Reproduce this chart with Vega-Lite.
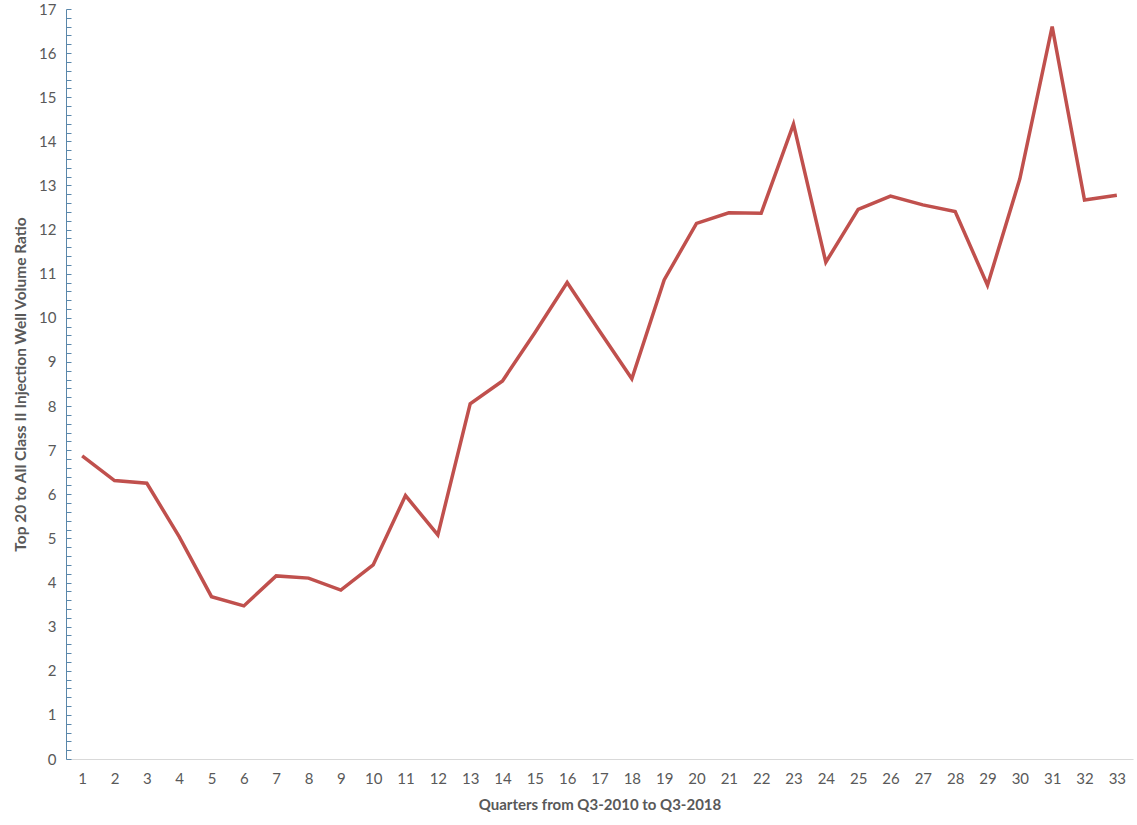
{
  "$schema": "https://vega.github.io/schema/vega-lite/v6.json",
  "width": 1067,
  "height": 750,
  "autosize": "none",
  "padding": {"left": 66, "top": 9, "right": 4, "bottom": 66},
  "background": "white",
  "config": {
    "view": {"stroke": null},
    "font": "Lato"
  },
  "data": {
    "values": [
      {"q": 1, "r": 6.87}, {"q": 2, "r": 6.31}, {"q": 3, "r": 6.25}, {"q": 4, "r": 5.04},
      {"q": 5, "r": 3.68}, {"q": 6, "r": 3.47}, {"q": 7, "r": 4.15}, {"q": 8, "r": 4.10},
      {"q": 9, "r": 3.83}, {"q": 10, "r": 4.40}, {"q": 11, "r": 5.97}, {"q": 12, "r": 5.08},
      {"q": 13, "r": 8.05}, {"q": 14, "r": 8.57}, {"q": 15, "r": 9.66}, {"q": 16, "r": 10.80},
      {"q": 17, "r": 9.70}, {"q": 18, "r": 8.62}, {"q": 19, "r": 10.86}, {"q": 20, "r": 12.14},
      {"q": 21, "r": 12.38}, {"q": 22, "r": 12.37}, {"q": 23, "r": 14.39}, {"q": 24, "r": 11.26},
      {"q": 25, "r": 12.46}, {"q": 26, "r": 12.76}, {"q": 27, "r": 12.56}, {"q": 28, "r": 12.41},
      {"q": 29, "r": 10.74}, {"q": 30, "r": 13.15}, {"q": 31, "r": 16.60}, {"q": 32, "r": 12.67},
      {"q": 33, "r": 12.78}
    ]
  },
  "mark": {"type": "line", "color": "#c0504d", "strokeWidth": 3.5, "strokeJoin": "miter"},
  "encoding": {
    "x": {
      "field": "q",
      "type": "ordinal",
      "sort": "ascending",
      "title": "Quarters from Q3-2010 to Q3-2018",
      "axis": {
        "labelAngle": 0,
        "ticks": false,
        "domainColor": "#d9d9d9",
        "domainWidth": 1,
        "labelColor": "#595959",
        "labelFontSize": 15,
        "labelPadding": 12,
        "titleColor": "#595959",
        "titleFontSize": 15,
        "titleFontWeight": "bold",
        "titlePadding": 11
      }
    },
    "y": {
      "field": "r",
      "type": "quantitative",
      "title": "Top 20 to All Class II Injection Well Volume Ratio",
      "scale": {"domain": [0, 17], "nice": false, "zero": true},
      "axis": {
        "values": [0,0.2,0.4,0.6,0.8,1,1.2,1.4,1.6,1.8,2,2.2,2.4,2.6,2.8,3,3.2,3.4,3.6,3.8,4,4.2,4.4,4.6,4.8,5,5.2,5.4,5.6,5.8,6,6.2,6.4,6.6,6.8,7,7.2,7.4,7.6,7.8,8,8.2,8.4,8.6,8.8,9,9.2,9.4,9.6,9.8,10,10.2,10.4,10.6,10.8,11,11.2,11.4,11.6,11.8,12,12.2,12.4,12.6,12.8,13,13.2,13.4,13.6,13.8,14,14.2,14.4,14.6,14.8,15,15.2,15.4,15.6,15.8,16,16.2,16.4,16.6,16.8,17],
        "labelExpr": "datum.value % 1 === 0 ? format(datum.value, 'd') : ''",
        "labelOverlap": false,
        "labelFlush": false,
        "grid": false,
        "tickSize": -5,
        "tickColor": "#5a87aa",
        "tickWidth": 1,
        "domainColor": "#5a87aa",
        "domainWidth": 1,
        "labelColor": "#595959",
        "labelFontSize": 15,
        "labelPadding": 15,
        "titleColor": "#595959",
        "titleFontSize": 15.5,
        "titleFontWeight": "bold",
        "titlePadding": 10
      }
    }
  }
}
